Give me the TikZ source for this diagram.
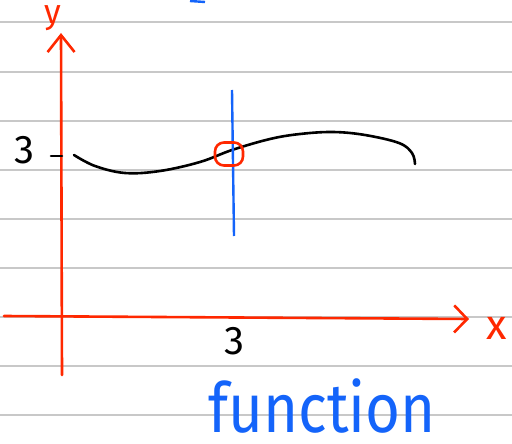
\documentclass[tikz,border=0pt]{standalone}
\usepackage{fontspec}
\setmainfont{Fira Sans}
\usetikzlibrary{arrows.meta}
\definecolor{penred}{RGB}{255, 40, 0}
\definecolor{penblue}{RGB}{20, 100, 250}
\definecolor{rulegray}{RGB}{200, 200, 200}

\begin{document}
\begin{tikzpicture}[
        x=1pt, y=-1pt,
        rule/.style={rulegray, line width=1.6pt},
        axis/.style={penred, line width=2.6pt, line cap=round},
        ink/.style={black, line width=2.6pt, line cap=round, line join=round},
        lbl/.style={font=\fontsize{40}{40}\selectfont, inner sep=0pt}
    ]
    \useasboundingbox[fill=white] (0, 0) rectangle (512, 444);

    % Ruled paper lines
    \foreach \y in {22, 72, 121, 170, 219, 268, 317, 366, 415}
    {
        \draw[rule] (0, \y) -- (512, \y);
    }

    % Stray pen stroke at the top edge
    \draw[penblue, line width=2.4pt] (190, 1) -- (205, 2);

    % Axes
    \coordinate (ybot) at (62, 375);
    \coordinate (ytop) at (61, 33);
    \coordinate (xleft) at (4, 316);
    \coordinate (xtip) at (469, 319);
    \draw[axis, -{Straight Barb[length=17pt, width=27pt, line width=2.6pt]}] (ybot) -- (ytop);
    \draw[axis, -{Straight Barb[length=13pt, width=27pt, line width=2.6pt]}] (xleft) -- (xtip);
    \node[text=penred, lbl, font=\fontsize{34}{34}\selectfont] (ylbl) at (53, 18) {y};
    \node[text=penred, lbl, font=\fontsize{42}{42}\selectfont] (xlbl) at (497, 328) {x};

    % Value 3 on both axes
    \node[lbl] (ythree) at (24, 150) {3};
    \coordinate (tickL) at (51, 156);
    \coordinate (tickR) at (62, 156);
    \draw[ink] (tickL) -- (tickR);
    \node[lbl] (xthree) at (234, 341) {3};

    % The function
    \draw[ink] plot[smooth, tension=0.6] coordinates {
        (74, 155) (95, 166) (125, 173) (160, 171) (200, 162) (232, 150)
        (270, 139) (300, 134) (333, 132) (365, 135) (399, 143) (412, 153) (415, 164)};

    % Vertical line test at x = 3
    \coordinate (vtop) at (232, 90);
    \coordinate (vbot) at (234, 236);
    \draw[penblue, line width=2.4pt] (vtop) -- (vbot);

    % Single crossing point
    \node[draw=penred, line width=2.6pt, minimum width=28pt, minimum height=23pt,
          rounded corners=9pt, inner sep=0pt] (hit) at (229, 154) {};

    % Caption
    \node[text=penblue, inner sep=0pt, anchor=base, yscale=1.15,
          font=\fontsize{60}{60}\selectfont] (caption) at (322, 432) {function};

\end{tikzpicture}
\end{document}
